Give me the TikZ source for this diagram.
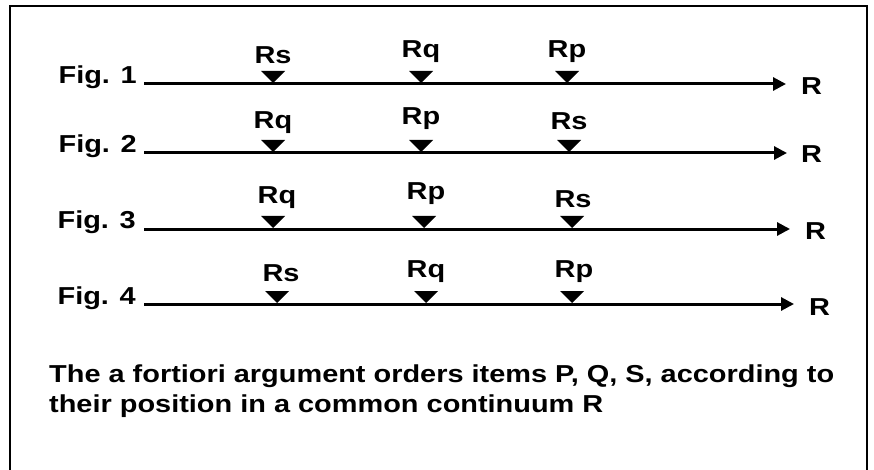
\documentclass[tikz,border=0pt]{standalone}
\usepackage{fontspec}
\setmainfont[FakeStretch=1.18, BoldFont={Liberation Sans Bold}]{Liberation Sans}
\usetikzlibrary{arrows.meta}

\tikzset{
    axis/.style={line width=3pt, -{Triangle[length=13pt, width=13pt]}},
    figlabel/.style={anchor=base east, inner sep=0pt},
    poslabel/.style={anchor=base, inner sep=0pt},
    endlabel/.style={anchor=base west, inner sep=0pt},
}

\begin{document}
\begin{tikzpicture}[x=1pt, y=-1pt, font=\fontsize{24.5}{29}\selectfont\bfseries]

    \useasboundingbox (0,0) rectangle (874,470);

    % frame, open at the bottom
    \draw[line width=2.5pt] (10,472) -- (10,6) -- (867,6) -- (867,472);

    % Fig. 1
    \coordinate (s1) at (144,84);
    \coordinate (e1) at (786,84);
    \draw[axis] (s1) -- (e1);
    \node[figlabel] (f1) at (137,84) {Fig. 1};
    \node[endlabel] (r1) at (801,95) {R};
    \coordinate (p11) at (273,84);
    \coordinate (p12) at (421,84);
    \coordinate (p13) at (567,84);
    \node[poslabel] (l11) at (273,63.5) {Rs};
    \node[poslabel] (l12) at (421,57.5) {Rq};
    \node[poslabel] (l13) at (567,57.5) {Rp};

    % Fig. 2
    \coordinate (s2) at (144,153);
    \coordinate (e2) at (787,153);
    \draw[axis] (s2) -- (e2);
    \node[figlabel] (f2) at (137,153) {Fig. 2};
    \node[endlabel] (r2) at (801,163) {R};
    \coordinate (p21) at (273,153);
    \coordinate (p22) at (421,153);
    \coordinate (p23) at (569,153);
    \node[poslabel] (l21) at (273,129) {Rq};
    \node[poslabel] (l22) at (421,125) {Rp};
    \node[poslabel] (l23) at (569,129.5) {Rs};

    % Fig. 3
    \coordinate (s3) at (144,229);
    \coordinate (e3) at (790,229);
    \draw[axis] (s3) -- (e3);
    \node[figlabel] (f3) at (136,229) {Fig. 3};
    \node[endlabel] (r3) at (805,239) {R};
    \coordinate (p31) at (273,229);
    \coordinate (p32) at (424,229);
    \coordinate (p33) at (572,229);
    \node[poslabel] (l31) at (277,203.5) {Rq};
    \node[poslabel] (l32) at (426,199.5) {Rp};
    \node[poslabel] (l33) at (573,207.5) {Rs};

    % Fig. 4
    \coordinate (s4) at (144,304);
    \coordinate (e4) at (794,304);
    \draw[axis] (s4) -- (e4);
    \node[figlabel] (f4) at (136,304) {Fig. 4};
    \node[endlabel] (r4) at (809,315) {R};
    \coordinate (p41) at (277,304);
    \coordinate (p42) at (426,304);
    \coordinate (p43) at (572,304);
    \node[poslabel] (l41) at (281,281.5) {Rs};
    \node[poslabel] (l42) at (426,277.5) {Rq};
    \node[poslabel] (l43) at (574,277.5) {Rp};

    % pointers sitting on the axes
    \foreach \p in {p11,p12,p13,p21,p22,p23,p31,p32,p33,p41,p42,p43}
        \fill (\p) ++(0,-1) -- ++(-12,-12) -- ++(24,0) -- cycle;

    % caption
    \node[anchor=base west, inner sep=0pt] (c1) at (49,382)
        {The a fortiori argument orders items P, Q, S, according to};
    \node[anchor=base west, inner sep=0pt] (c2) at (49,412)
        {their position in a common continuum R};

\end{tikzpicture}
\end{document}
